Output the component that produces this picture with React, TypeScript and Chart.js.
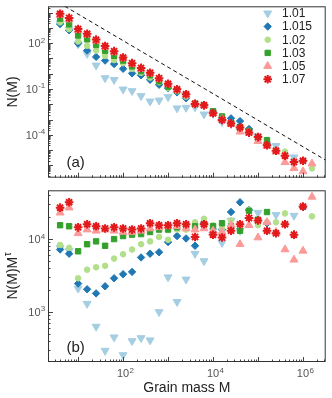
import React, { useEffect, useRef } from 'react';
import { Chart, registerables } from 'chart.js';
import { drawPoint } from 'chart.js/helpers';

Chart.register(...registerables);

const FONT = '"Liberation Sans", Arial, Helvetica, sans-serif';

// Grain mass bins (log-spaced, 5 per decade)
const grainMass = [3.98, 6.31, 10, 15.85, 25.12, 39.81, 63.1, 100, 158.5, 251.2, 398.1, 631, 1000, 1585, 2512, 3981, 6310, 1e4, 1.585e4, 2.512e4, 3.981e4, 6.31e4, 1e5, 1.585e5, 2.512e5, 3.981e5, 6.31e5, 1e6, 1.585e6];

const seriesNames = ['1.01', '1.015', '1.02', '1.03', '1.05', '1.07'];
const seriesColors = ['#a6cee3', '#1f78b4', '#b2df8a', '#33a02c', '#fb9a99', '#e31a1c'];
const seriesMarkers = ['triangle', 'rectRot', 'circle', 'rect', 'triangle', 'star'];
const seriesRotation = [180, 0, 0, 0, 0, 0];
const seriesRadius = [4.6, 3.7, 2.8, 3.8, 4.6, 4.3];

// Panel (a): N(M)
const nM_101 = [1.95e3, 790, 87, 20, 3.5, 0.52, 0.4, 0.095, 0.074, 0.035, 0.0155, 0.018, 0.03, 5.5e-3, 6.0e-3, 6.5e-3, 2.2e-3, 2.4e-3, 7.1e-4, 5.0e-4, 2.2e-4, null, 8.3e-5, null, 1.9e-5, null, 3.4e-6, null, null];
const nM_1015 = [1.8e3, 700, 95, 33, 12.6, 7.2, 4.3, 2.1, 1.05, 0.79, 0.4, 0.19, 0.115, 0.06, 0.025, 0.011, 9.1e-3, 2.9e-3, 1.3e-3, 1.2e-3, 7.9e-4, 2.4e-4, null, 2.5e-5, null, null, null, 2.0e-6, null];
const nM_102 = [2.3e3, 830, 129, 68, 33, 14.8, 7.8, 4.9, 2.1, 1.15, 0.56, 0.275, 0.12, 0.072, 0.032, 0.0126, 8.9e-3, 2.8e-3, 1.4e-3, 6.3e-4, 2.5e-4, 1.8e-4, 5.0e-5, 2.5e-5, 1.0e-5, 7.9e-6, null, null, 6.3e-7];
const nM_103 = [4.0e3, 1.7e3, 316, 178, 76, 32, 14.8, 7.2, 3.0, 1.48, 0.79, 0.32, 0.14, 0.083, 0.041, 0.0112, 8.9e-3, 3.5e-3, 1.6e-3, 5.6e-4, 3.2e-4, 1.8e-4, 6.3e-5, 4.5e-5, null, null, null, null, null];
const nM_105 = [7.1e3, 3.5e3, 710, 355, 141, 56, 25, 10, 4.3, 2.0, 1.0, 0.45, 0.2, 0.083, 0.038, 0.0112, 8.3e-3, 2.5e-3, 1.05e-3, 5.0e-4, 1.6e-4, 1.4e-4, 3.8e-5, 1.9e-5, 7.9e-6, 1.6e-6, 6.5e-7, 4.0e-7, 1.3e-6];
const nM_107 = [8.3e3, 4.5e3, 830, 410, 170, 65, 30, 11.5, 4.9, 2.4, 1.15, 0.51, 0.22, 0.095, 0.045, 0.0105, 8.5e-3, 2.6e-3, 9.5e-4, 5.6e-4, 3.0e-4, 1.4e-4, 7.1e-5, 2.1e-5, 9.1e-6, 4.3e-6, 1.66e-6, 2.0e-6, null];

// Panel (b): N(M) M^tau
const nMtau_101 = [7.6e3, 6.9e3, 2.1e3, 1.3e3, 630, 295, 450, 257, 400, 440, 410, 1.0e3, 3.0e3, 1.38e3, 2.8e3, 6.3e3, 5.0e3, 1.3e4, 8.9e3, 1.8e4, 1.3e4, null, 2.3e4, null, 2.15e4, null, 2.1e4, null, null];
const nMtau_1015 = [7.2e3, 6.3e3, 2.45e3, 2.05e3, 1.8e3, 2.25e3, 2.9e3, 3.3e3, 3.55e3, 5.6e3, 6.3e3, 6.6e3, 9.1e3, 1.1e4, 1.02e4, 8.1e3, 1.65e4, 1.23e4, 1.35e4, 2.35e4, 3.2e4, 2.5e4, null, 1.65e4, null, null, null, 2.75e4, null];
const nMtau_102 = [8.3e3, 7.6e3, 2.9e3, 3.8e3, 4.1e3, 4.3e3, 5.4e3, 6.2e3, 7.2e3, 8.5e3, 9.3e3, 1.07e4, 9.8e3, 1.35e4, 1.35e4, 1.7e4, 1.9e4, 1.55e4, 1.4e4, 1.8e4, 1.3e4, 2.5e4, 1.55e4, 1.7e4, 1.7e4, 2.25e4, null, null, 2.05e4];
const nMtau_103 = [1.55e4, 1.5e4, 6.8e3, 8.5e3, 9.3e3, 8.1e3, 1.0e4, 1.1e4, 1.15e4, 1.17e4, 1.25e4, 1.35e4, 1.35e4, 1.45e4, 1.5e4, 1.5e4, 1.6e4, 1.5e4, 1.65e4, 1.5e4, 1.3e4, 2.45e4, 1.85e4, 2.35e4, null, null, null, null, null];
const nMtau_105 = [2.3e4, 2.7e4, 1.2e4, 1.35e4, 1.3e4, 1.35e4, 1.3e4, 1.25e4, 1.25e4, 1.3e4, 1.4e4, 1.45e4, 1.5e4, 1.5e4, 1.4e4, 1.35e4, 1.4e4, 1.3e4, 1.25e4, 1.55e4, 8.5e3, 1.55e4, 1.05e4, 1.7e4, 1.25e4, 7.2e3, 5.2e3, 6.9e3, 3.8e4];
const nMtau_107 = [2.7e4, 3.2e4, 1.45e4, 1.6e4, 1.5e4, 1.4e4, 1.45e4, 1.4e4, 1.35e4, 1.4e4, 1.65e4, 1.55e4, 1.55e4, 1.65e4, 1.6e4, 1.07e4, 1.6e4, 1.15e4, 1.05e4, 1.3e4, 1.6e4, 1.95e4, 1.8e4, 1.3e4, 1.2e4, 1.6e4, 1.15e4, 2.8e4, null];

// Dashed guide line in panel (a)
const guideMass = [2, 3.2e6];
const guideN = [1.3e5, 2.2e-6];

// Axis ranges and tick labels (powers of ten)
const massRange = [2.14, 3.2e6];
const nRange = [1.56e-7, 2.58e4];
const nTauRange = [206, 4.67e4];
const xTickExps = [2, 4, 6];
const yTickExpsA = [2, -1, -4];
const yTickExpsB = [3, 4];

const seriesA = [nM_101, nM_1015, nM_102, nM_103, nM_105, nM_107];
const seriesB = [nMtau_101, nMtau_1015, nMtau_102, nMtau_103, nMtau_105, nMtau_107];

function toPoints(ys: (number | null)[]) {
  const pts: { x: number; y: number }[] = [];
  ys.forEach((v, i) => {
    if (v !== null && v !== undefined) pts.push({ x: grainMass[i], y: v });
  });
  return pts;
}

function logTicks(scale: any) {
  const out: { p: number; major: boolean }[] = [];
  const lo = Math.floor(Math.log10(scale.min));
  const hi = Math.ceil(Math.log10(scale.max));
  for (let d = lo; d <= hi; d++) {
    for (let k = 1; k <= 9; k++) {
      const v = k * Math.pow(10, d);
      if (v < scale.min || v > scale.max) continue;
      out.push({ p: scale.getPixelForValue(v), major: k === 1 });
    }
  }
  return out;
}

function powLabel(ctx: CanvasRenderingContext2D, x: number, baseY: number, exp: number, align: 'center' | 'right') {
  const base = '10';
  const sup = String(exp);
  ctx.font = `11px ${FONT}`;
  const wb = ctx.measureText(base).width;
  ctx.font = `8px ${FONT}`;
  const ws = ctx.measureText(sup).width;
  const x0 = align === 'center' ? x - wb / 2 : x - wb - ws;
  ctx.textAlign = 'left';
  ctx.textBaseline = 'alphabetic';
  ctx.font = `11px ${FONT}`;
  ctx.fillText(base, x0, baseY);
  ctx.font = `8px ${FONT}`;
  ctx.fillText(sup, x0 + wb + 0.3, baseY - 4.5);
}

const panelPlugin = {
  id: 'panelDeco',
  afterDraw(chart: any, _args: any, o: any) {
    const { ctx, chartArea: ca } = chart;
    const xs = chart.scales.x;
    const ys = chart.scales.y;
    ctx.save();
    // inward ticks
    ctx.strokeStyle = '#444';
    ctx.lineWidth = 1;
    logTicks(xs).forEach((t) => {
      const p = Math.round(t.p) + 0.5;
      const len = t.major ? 5 : 2.5;
      ctx.beginPath();
      ctx.moveTo(p, ca.bottom);
      ctx.lineTo(p, ca.bottom - len);
      ctx.stroke();
    });
    logTicks(ys).forEach((t) => {
      const p = Math.round(t.p) + 0.5;
      const len = t.major ? 5 : 2.5;
      ctx.beginPath();
      ctx.moveTo(ca.left, p);
      ctx.lineTo(ca.left + len, p);
      ctx.stroke();
    });
    // frame
    ctx.strokeStyle = '#333';
    ctx.strokeRect(ca.left + 0.5, ca.top + 0.5, ca.right - ca.left - 1, ca.bottom - ca.top - 1);

    // y tick labels
    ctx.fillStyle = '#555';
    (o.yExps as number[]).forEach((e) => {
      const py = ys.getPixelForValue(Math.pow(10, e));
      powLabel(ctx, ca.left - 3, py + 4, e, 'right');
    });
    // x tick labels
    if (o.xExps) {
      (o.xExps as number[]).forEach((e) => {
        const px = xs.getPixelForValue(Math.pow(10, e));
        powLabel(ctx, px, ca.bottom + 15, e, 'center');
      });
    }
    // x title
    ctx.fillStyle = '#222';
    if (o.xTitle) {
      ctx.font = `14px ${FONT}`;
      ctx.textAlign = 'center';
      ctx.textBaseline = 'alphabetic';
      ctx.fillText(o.xTitle, (ca.left + ca.right) / 2, ca.bottom + 29.5);
    }
    // y title (rotated) with optional superscript
    ctx.save();
    ctx.translate(16.5, (ca.top + ca.bottom) / 2);
    ctx.rotate(-Math.PI / 2);
    ctx.textBaseline = 'alphabetic';
    ctx.textAlign = 'left';
    ctx.font = `14px ${FONT}`;
    const w1 = ctx.measureText(o.yTitle).width;
    let w2 = 0;
    if (o.yTitleSup) {
      ctx.font = `10px ${FONT}`;
      w2 = ctx.measureText(o.yTitleSup).width;
    }
    const sx = -(w1 + w2) / 2;
    ctx.font = `14px ${FONT}`;
    ctx.fillText(o.yTitle, sx, 0);
    if (o.yTitleSup) {
      ctx.font = `10px ${FONT}`;
      ctx.fillText(o.yTitleSup, sx + w1 + 0.5, -6);
    }
    ctx.restore();

    // panel tag
    ctx.font = `15px ${FONT}`;
    ctx.textAlign = 'left';
    ctx.textBaseline = 'alphabetic';
    ctx.fillStyle = '#222';
    ctx.fillText(o.tag, 66.5, ca.top + o.tagBaseline);

    // legend
    if (o.legend) {
      seriesNames.forEach((name, i) => {
        const y = 13.3 + 13.2 * i;
        ctx.fillStyle = seriesColors[i];
        ctx.strokeStyle = seriesColors[i];
        ctx.lineWidth = seriesMarkers[i] === 'star' ? 2 : 1;
        drawPoint(ctx, {
          pointStyle: seriesMarkers[i],
          rotation: seriesRotation[i],
          radius: seriesRadius[i],
          borderWidth: seriesMarkers[i] === 'star' ? 2 : 1,
        } as any, 267.7, y);
        ctx.fillStyle = '#222';
        ctx.font = `12px ${FONT}`;
        ctx.textAlign = 'left';
        ctx.textBaseline = 'middle';
        ctx.fillText(name, 282, y + 0.5);
      });
    }
    ctx.restore();
  },
};

function buildDatasets(series: (number | null)[][]) {
  return series.map((ys, i) => ({
    label: seriesNames[i],
    data: toPoints(ys),
    showLine: false,
    pointStyle: seriesMarkers[i],
    pointRotation: seriesRotation[i],
    pointRadius: seriesRadius[i],
    pointBackgroundColor: seriesColors[i],
    pointBorderColor: seriesColors[i],
    pointBorderWidth: seriesMarkers[i] === 'star' ? 2 : 1,
    order: 5 - i,
  }));
}

function makeConfig(panel: 'a' | 'b'): any {
  const datasets: any[] = buildDatasets(panel === 'a' ? seriesA : seriesB);
  if (panel === 'a') {
    datasets.push({
      type: 'line',
      label: 'guide',
      data: guideMass.map((m, i) => ({ x: m, y: guideN[i] })),
      borderColor: '#111',
      borderWidth: 1,
      borderDash: [4, 3],
      pointRadius: 0,
      fill: false,
      order: 10,
    });
  }
  const yr = panel === 'a' ? nRange : nTauRange;
  return {
    type: 'scatter',
    data: { datasets },
    options: {
      animation: false,
      responsive: false,
      devicePixelRatio: 1,
      events: [],
      layout: {
        padding: panel === 'a'
          ? { left: 48, right: 4, top: 0, bottom: 3 }
          : { left: 48, right: 4, top: 3, bottom: 36 },
      },
      scales: {
        x: { type: 'logarithmic', min: massRange[0], max: massRange[1], display: false },
        y: { type: 'logarithmic', min: yr[0], max: yr[1], display: false },
      },
      plugins: {
        legend: { display: false },
        tooltip: { enabled: false },
        panelDeco: panel === 'a'
          ? { yExps: yTickExpsA, xExps: null, yTitle: 'N(M)', yTitleSup: '', tag: '(a)', tagBaseline: 160.5, legend: true }
          : { yExps: yTickExpsB, xExps: xTickExps, xTitle: 'Grain mass M', yTitle: 'N(M)M', yTitleSup: 'τ', tag: '(b)', tagBaseline: 161.5, legend: false },
      },
    },
    plugins: [panelPlugin],
  };
}

export default function App() {
  const refA = useRef<HTMLCanvasElement>(null);
  const refB = useRef<HTMLCanvasElement>(null);
  useEffect(() => {
    const a = new Chart(refA.current as HTMLCanvasElement, makeConfig('a'));
    const b = new Chart(refB.current as HTMLCanvasElement, makeConfig('b'));
    return () => {
      a.destroy();
      b.destroy();
    };
  }, []);
  return (
    <div style={{ position: 'fixed', left: 0, top: 0, width: 332, height: 398, background: '#fff' }}>
      <canvas ref={refA} width={332} height={184} style={{ position: 'absolute', left: 0, top: 0, width: 332, height: 184 }} />
      <canvas ref={refB} width={332} height={214} style={{ position: 'absolute', left: 0, top: 184, width: 332, height: 214 }} />
    </div>
  );
}
